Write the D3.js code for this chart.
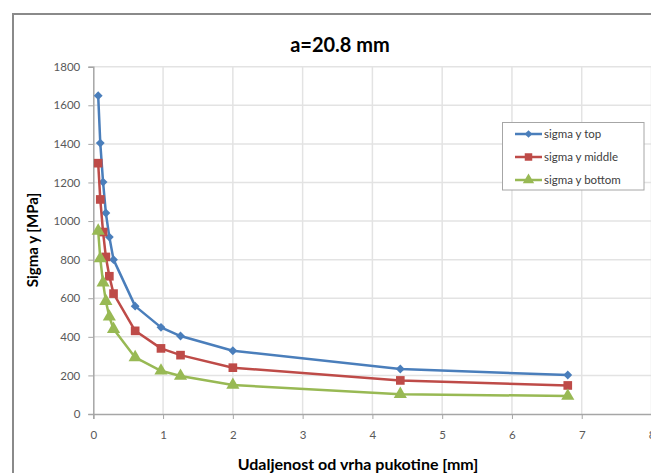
<!DOCTYPE html>
<html><head><meta charset="utf-8">
<script src="https://cdn.jsdelivr.net/npm/d3@7"></script>
<style>body{margin:0;background:#fff;overflow:hidden}svg{display:block;font-family:Lato,"Open Sans",sans-serif}</style>
</head><body><svg id="c" width="651" height="473"></svg>
<script>
const xValues = [0.07, 0.10, 0.14, 0.18, 0.23, 0.29, 0.60, 0.97, 1.25, 2.0, 4.4, 6.8];
const sigmaTop = [1650, 1404, 1202, 1042, 917, 800, 559, 449, 404, 328, 233, 202];
const sigmaMiddle = [1300, 1112, 943, 814, 714, 624, 431, 340, 305, 240, 174, 148];
const sigmaBottom = [949, 806, 681, 585, 504, 440, 293, 224, 197, 150, 103, 93];
const seriesNames = ["sigma y top", "sigma y middle", "sigma y bottom"];
const seriesColors = ["#4A7EBB", "#BE4B48", "#98B954"];
const xTicks = [0,1,2,3,4,5,6,7,8];
const yTicks = [0,200,400,600,800,1000,1200,1400,1600,1800];
const title = "a=20.8 mm";
const xTitle = "Udaljenost od vrha pukotine [mm]";
const yTitle = "Sigma y [MPa]";

const svg = d3.select("#c");
svg.append("rect").attr("width",651).attr("height",473).attr("fill","#fff");
svg.append("rect").attr("x",13).attr("y",14).attr("width",700).attr("height",520)
  .attr("fill","none").attr("stroke","#8a8a8a").attr("stroke-width",2);

const x = d3.scaleLinear().domain([0,8]).range([93.3,651.5]);
const y = d3.scaleLinear().domain([0,1800]).range([414,66.7]);

// gridlines
svg.append("g").selectAll("line").data(yTicks.slice(1)).join("line")
  .attr("x1",x(0)).attr("x2",x(8)).attr("y1",d=>y(d)).attr("y2",d=>y(d))
  .attr("stroke","#e3e3e3").attr("stroke-width",1.5);
svg.append("g").selectAll("line").data(xTicks.slice(1)).join("line")
  .attr("y1",y(0)).attr("y2",y(1800)).attr("x1",d=>x(d)).attr("x2",d=>x(d))
  .attr("stroke","#e3e3e3").attr("stroke-width",1.5);

// axes
const yAxis = svg.append("g").attr("transform",`translate(${x(0)},0)`)
  .call(d3.axisLeft(y).tickValues(yTicks).tickFormat(d3.format("d")).tickSize(5).tickPadding(8));
const xAxis = svg.append("g").attr("transform",`translate(0,${y(0)})`)
  .call(d3.axisBottom(x).tickValues(xTicks).tickFormat(d3.format("d")).tickSize(5).tickPadding(12));
[yAxis,xAxis].forEach(a=>{
  a.select(".domain").attr("stroke","#a6a6a6").attr("stroke-width",1.5);
  a.selectAll(".tick line").attr("stroke","#a6a6a6");
  a.selectAll("text").attr("fill","#595959").attr("font-size","11.5px").attr("font-family","Lato,sans-serif");
});

// series
const data = [sigmaTop, sigmaMiddle, sigmaBottom];
const line = d3.line().x((d,i)=>x(xValues[i])).y(d=>y(d));
const symbols = [d3.symbolDiamond2, d3.symbolSquare, d3.symbolTriangle];
const sizes = [50, 75, 75];
data.forEach((vals,k)=>{
  svg.append("path").datum(vals).attr("d",line).attr("fill","none")
    .attr("stroke",seriesColors[k]).attr("stroke-width",2.5).attr("stroke-linejoin","round");
  svg.append("g").selectAll("path").data(vals).join("path")
    .attr("transform",(d,i)=>`translate(${x(xValues[i])},${y(d)})`)
    .attr("d",d3.symbol().type(symbols[k]).size(sizes[k]))
    .attr("fill",seriesColors[k]);
});

// legend
const lg = svg.append("g");
lg.append("rect").attr("x",502.5).attr("y",122.5).attr("width",141.5).attr("height",67.5)
  .attr("fill","#fff").attr("stroke","#a6a6a6").attr("stroke-width",1);
seriesNames.forEach((n,k)=>{
  const yy = 134 + k*23;
  lg.append("line").attr("x1",515).attr("x2",542).attr("y1",yy).attr("y2",yy)
    .attr("stroke",seriesColors[k]).attr("stroke-width",2.5);
  lg.append("path").attr("transform",`translate(528.5,${yy})`)
    .attr("d",d3.symbol().type(symbols[k]).size(sizes[k]*0.75)).attr("fill",seriesColors[k]);
  lg.append("text").attr("x",544).attr("y",yy+4).text(n)
    .attr("font-size","11.5px").attr("fill","#404040");
});

// titles
svg.append("text").attr("x",340).attr("y",52).attr("text-anchor","middle")
  .attr("font-size","20px").attr("font-weight","bold").attr("fill","#000").text(title);
svg.append("text").attr("x",358).attr("y",470).attr("text-anchor","middle")
  .attr("font-size","16px").attr("font-weight","bold").attr("fill","#000").text(xTitle);
svg.append("text").attr("transform","translate(38,240) rotate(-90)").attr("text-anchor","middle")
  .attr("font-size","15px").attr("font-weight","bold").attr("fill","#000").text(yTitle);
</script></body></html>
